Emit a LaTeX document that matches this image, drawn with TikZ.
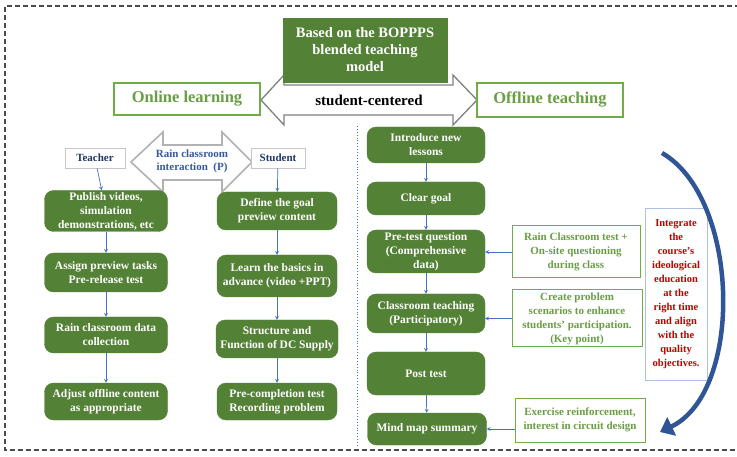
\documentclass[tikz,border=0pt]{standalone}
\usepackage{fontspec}
\setmainfont{Liberation Serif}
\usetikzlibrary{arrows.meta}
\definecolor{dkgreen}{HTML}{538135}
\definecolor{ltgreen}{HTML}{70AD47}
\definecolor{txtgreen}{HTML}{6A9E45}
\definecolor{navy}{HTML}{1F3864}
\definecolor{linkblue}{HTML}{4472C4}
\definecolor{bigblue}{HTML}{2F5597}
\definecolor{darkred}{HTML}{C00000}

\begin{document}
\begin{tikzpicture}[x=1pt,y=-1pt,
  gbox/.style={draw=dkgreen,fill=dkgreen,rounded corners=9pt,text=white,align=center,inner sep=0pt,font=\bfseries\fontsize{11.5}{14}\selectfont},
  obox/.style={draw=ltgreen,line width=1.2pt,fill=white,text=txtgreen,align=center,inner sep=0pt,font=\bfseries\fontsize{16.5}{18}\selectfont},
  sbox/.style={draw=ltgreen,line width=1pt,fill=white,text=txtgreen,align=center,inner sep=0pt,font=\bfseries\fontsize{11}{14}\selectfont},
  rbox/.style={draw=gray!45,line width=0.8pt,fill=white,text=navy,inner sep=0pt,font=\bfseries\fontsize{11}{13}\selectfont},
  link/.style={->,>=stealth,linkblue,line width=0.7pt}]
\useasboundingbox (0,0) rectangle (737,457);

\draw[black!70,line width=1.1pt,dash pattern=on 5pt off 3pt] (740,6) -- (5,6) -- (5,450) -- (740,450);

\draw[gray,line width=1.3pt,fill=white] (261,100) -- (284,75) -- (284,85) -- (453,85) -- (453,75) -- (477,100) -- (453,125) -- (453,115) -- (284,115) -- (284,125) -- cycle;
\node (sc) at (369,100) {\bfseries\fontsize{15}{17}\selectfont student-centered};

\node[draw=dkgreen,fill=dkgreen,text=white,align=center,inner sep=0pt,minimum width=164pt,minimum height=64pt,font=\bfseries\fontsize{14.5}{17}\selectfont] (title) at (365,50) {Based on the BOPPPS\\blended teaching\\model};

\node[obox,minimum width=146pt,minimum height=32pt] (online) at (187,99) {Online learning};
\node[obox,minimum width=146pt,minimum height=34pt] (offline) at (550,100) {Offline teaching};

\draw[linkblue,line width=0.9pt,dotted] (357,126) -- (357,447);

\draw[gray!60,line width=1.6pt,fill=white] (131,162) -- (163,132) -- (163,145) -- (222,145) -- (222,132) -- (252,162) -- (222,192) -- (222,180) -- (163,180) -- (163,192) -- cycle;
\node[text=linkblue!80!black,align=center,font=\bfseries\fontsize{11}{13}\selectfont] (rain) at (192,161) {Rain classroom\\interaction\ \ (P)};

\node[rbox,minimum width=60pt,minimum height=20pt] (t0) at (95,158) {Teacher};
\node[rbox,minimum width=54pt,minimum height=20pt] (s0) at (278,158) {Student};

\node[gbox,minimum width=123pt,minimum height=41pt] (t1) at (106,211) {Publish videos,\\simulation\\demonstrations, etc};
\node[gbox,minimum width=123pt,minimum height=39pt] (t2) at (106,272.5) {Assign preview tasks\\Pre-release test};
\node[gbox,minimum width=123pt,minimum height=36pt] (t3) at (106,335) {Rain classroom data\\collection};
\node[gbox,minimum width=123pt,minimum height=37pt] (t4) at (106,401.5) {Adjust offline content\\as appropriate};

\node[gbox,minimum width=120pt,minimum height=38pt] (s1) at (277,211) {Define the goal\\preview content};
\node[gbox,minimum width=120pt,minimum height=42pt] (s2) at (277,276) {Learn the basics in\\advance (video +PPT)};
\node[gbox,minimum width=122pt,minimum height=38pt] (s3) at (277,339) {Structure and\\Function of DC Supply};
\node[gbox,minimum width=120pt,minimum height=37pt] (s4) at (277,401.5) {Pre-completion test\\Recording problem};

\node[gbox,minimum width=118pt,minimum height=36pt] (o1) at (426,145) {Introduce new\\lessons};
\node[gbox,minimum width=118pt,minimum height=33pt] (o2) at (426,198.5) {Clear goal};
\node[gbox,minimum width=118pt,minimum height=43pt] (o3) at (426,251.5) {Pre-test question\\(Comprehensive\\data)};
\node[gbox,minimum width=118pt,minimum height=39pt] (o4) at (426,313.5) {Classroom teaching\\(Participatory)};
\node[gbox,minimum width=118pt,minimum height=43pt] (o5) at (426,373.5) {Post test};
\node[gbox,minimum width=119pt,minimum height=32pt] (o6) at (427,429) {Mind map summary};

\node[sbox,minimum width=128pt,minimum height=52pt] (sb1) at (576,252) {Rain Classroom test +\\On-site questioning\\during class};
\node[sbox,minimum width=130pt,minimum height=57pt] (sb2) at (577,318.5) {Create problem\\scenarios to enhance\\students' participation.\\(Key point)};
\node[sbox,minimum width=130pt,minimum height=44pt] (sb3) at (580,420) {Exercise reinforcement,\\interest in circuit design};

\node[draw=linkblue!45,line width=1pt,fill=white,text=darkred,align=center,inner sep=0pt,minimum width=62pt,minimum height=171pt,font=\bfseries\fontsize{10.5}{14}\selectfont] (idea) at (676,294.5) {Integrate\\the\\course's\\ideological\\education\\at the\\right time\\and align\\with the\\quality\\objectives.};

\coordinate (cs) at (662,153);
\coordinate (ce) at (660,432);
\draw[bigblue,line width=4.5pt,-{Triangle[length=13pt,width=20pt]}] (cs) .. controls (740,198) and (744,392) .. (ce);

\draw[link] (t0) edge (t1) (t1) edge (t2) (t2) edge (t3) (t3) edge (t4);
\draw[link] (s0) edge (s1) (s1) edge (s2) (s2) edge (s3) (s3) edge (s4);
\draw[link] (o1) edge (o2) (o2) edge (o3) (o3) edge (o4) (o4) edge (o5) (o5) edge (o6);
\draw[link] (sb1.west) -- (sb1.west -| o3.east);
\draw[link] (sb2.west) -- (sb2.west -| o4.east);
\draw[link] (o6.east -| sb3.west) -- (o6.east);
\end{tikzpicture}
\end{document}
